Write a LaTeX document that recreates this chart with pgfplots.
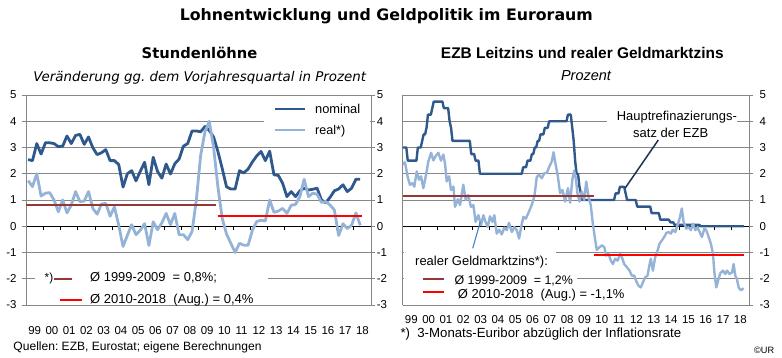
\documentclass[border=0pt]{standalone}
\usepackage{pgfplots}
\pgfplotsset{compat=1.18}
\usepackage{pgfplotstable}
\usepackage{graphicx}
\usepackage{fontspec}
\setmainfont{Liberation Sans}
\newfontfamily\verdana{DejaVu Sans}
\frenchspacing

\definecolor{nomblue}{RGB}{47,88,140}
\definecolor{realblue}{RGB}{149,179,215}
\definecolor{avgdark}{RGB}{149,55,53}
\definecolor{avgred}{RGB}{255,0,0}
\definecolor{gridgray}{RGB}{134,134,134}
\definecolor{ptrblue}{RGB}{70,130,200}
\definecolor{ptrnavy}{RGB}{30,50,80}

\newcommand{\tickfont}{\fontsize{11.5}{13}\selectfont}
\newcommand{\fit}[2]{\resizebox{#1bp}{!}{#2}}

\pgfplotstableread{
x nom real
1999.125 2.54 1.74
1999.375 2.50 1.51
1999.625 3.15 2.00
1999.875 2.75 1.15
2000.125 3.18 1.26
2000.375 3.18 1.28
2000.625 3.15 1.00
2000.875 3.03 0.55
2001.125 3.05 1.00
2001.375 3.44 0.51
2001.625 3.15 0.81
2001.875 3.46 1.32
2002.125 3.50 0.94
2002.375 3.12 0.96
2002.625 3.40 1.32
2002.875 2.99 0.68
2003.125 2.73 0.46
2003.375 2.80 0.85
2003.625 2.92 0.87
2003.875 2.50 0.38
2004.125 2.50 0.74
2004.375 2.35 0.04
2004.625 1.49 -0.77
2004.875 2.00 -0.35
2005.125 2.12 0.06
2005.375 1.73 -0.32
2005.625 2.09 -0.15
2005.875 2.44 0.10
2006.125 1.58 -0.73
2006.375 2.63 0.17
2006.625 2.09 -0.13
2006.875 1.83 0.13
2007.125 2.37 0.49
2007.375 1.99 0.06
2007.625 2.38 0.49
2007.875 2.56 -0.32
2008.125 3.05 -0.32
2008.375 3.15 -0.51
2008.625 3.63 -0.20
2008.875 3.63 1.00
2009.125 3.60 2.70
2009.375 3.80 3.60
2009.625 3.65 4.00
2009.875 3.40 3.00
2010.125 2.85 1.50
2010.375 2.20 0.30
2010.625 1.50 -0.30
2010.875 1.42 -0.65
2011.125 1.42 -1.00
2011.375 2.12 -0.65
2011.625 2.03 -0.72
2011.875 2.18 -0.72
2012.125 2.45 -0.15
2012.375 2.68 0.18
2012.625 2.85 0.23
2012.875 2.50 0.20
2013.125 2.86 1.00
2013.375 1.96 0.53
2013.625 1.94 0.58
2013.875 1.64 0.68
2014.125 1.13 0.49
2014.375 1.32 0.80
2014.625 1.13 0.83
2014.875 1.35 1.13
2015.125 1.45 1.79
2015.375 1.38 1.13
2015.625 1.41 1.26
2015.875 1.45 1.22
2016.125 1.00 0.91
2016.375 0.90 0.94
2016.625 1.10 0.81
2016.875 1.35 0.62
2017.125 1.42 -0.35
2017.375 1.58 0.10
2017.625 1.32 -0.09
2017.875 1.45 0.04
2018.125 1.79 0.51
2018.375 1.79 0.04
}\lohn

\pgfplotstableread{
x y
1999.000 3.00
1999.208 3.00
1999.292 2.50
1999.792 2.50
1999.875 3.00
2000.042 3.00
2000.125 3.25
2000.208 3.50
2000.292 3.50
2000.375 3.75
2000.458 4.25
2000.625 4.25
2000.708 4.50
2000.792 4.75
2001.292 4.75
2001.375 4.50
2001.625 4.50
2001.708 4.00
2001.792 3.75
2001.875 3.25
2002.875 3.25
2002.958 2.75
2003.125 2.75
2003.208 2.50
2003.375 2.50
2003.458 2.00
2005.875 2.00
2005.958 2.25
2006.125 2.25
2006.208 2.50
2006.375 2.50
2006.458 2.75
2006.542 2.75
2006.625 3.00
2006.708 3.00
2006.792 3.25
2006.875 3.25
2006.958 3.50
2007.125 3.50
2007.208 3.75
2007.375 3.75
2007.458 4.00
2008.458 4.00
2008.542 4.25
2008.708 4.25
2008.792 3.75
2008.875 3.25
2008.958 2.50
2009.042 2.00
2009.125 2.00
2009.208 1.50
2009.292 1.25
2009.375 1.00
2011.208 1.00
2011.292 1.25
2011.458 1.25
2011.542 1.50
2011.792 1.50
2011.875 1.25
2011.958 1.00
2012.458 1.00
2012.542 0.75
2013.292 0.75
2013.375 0.50
2013.792 0.50
2013.875 0.25
2014.375 0.25
2014.458 0.15
2014.625 0.15
2014.708 0.05
2016.125 0.05
2016.208 0.00
2018.720 0.00
}\mro

\pgfplotstableread{
x y
1999.00 2.35
1999.13 2.44
1999.29 1.87
1999.42 1.58
1999.56 1.64
1999.67 1.51
1999.81 2.09
1999.94 1.77
2000.06 1.90
2000.19 1.45
2000.33 1.90
2000.48 2.47
2000.64 2.80
2000.77 2.51
2000.90 2.67
2001.06 2.80
2001.21 2.50
2001.35 2.73
2001.45 2.35
2001.54 1.71
2001.68 1.90
2001.79 1.38
2001.93 1.51
2002.02 0.74
2002.18 1.03
2002.31 0.81
2002.50 1.58
2002.64 1.00
2002.79 1.19
2002.94 0.74
2003.08 0.81
2003.21 0.17
2003.37 0.42
2003.52 0.04
2003.66 0.42
2003.76 0.21
2003.91 -0.03
2004.04 0.38
2004.18 0.17
2004.29 0.42
2004.43 -0.28
2004.57 -0.13
2004.72 -0.31
2004.87 -0.05
2005.01 -0.15
2005.14 0.13
2005.30 -0.22
2005.45 -0.03
2005.59 -0.15
2005.72 -0.47
2005.84 -0.03
2005.97 0.36
2006.11 0.29
2006.26 0.51
2006.45 0.81
2006.61 1.15
2006.74 1.87
2006.88 1.96
2007.03 1.83
2007.19 2.03
2007.32 2.03
2007.46 2.26
2007.61 2.47
2007.71 2.82
2007.80 2.47
2007.96 1.90
2008.09 1.26
2008.23 1.38
2008.38 0.94
2008.54 1.45
2008.67 0.90
2008.80 1.80
2008.90 2.12
2009.00 1.80
2009.09 1.26
2009.21 0.94
2009.34 1.32
2009.48 1.00
2009.60 1.70
2009.73 1.13
2009.86 0.81
2009.98 0.10
2010.12 -0.54
2010.21 -0.90
2010.37 -0.80
2010.50 -0.73
2010.64 -0.79
2010.75 -1.12
2010.89 -1.05
2011.02 -1.31
2011.14 -1.44
2011.27 -1.24
2011.41 -1.31
2011.56 -1.05
2011.66 -1.18
2011.79 -1.44
2011.95 -1.56
2012.10 -1.69
2012.23 -1.88
2012.37 -1.88
2012.48 -2.08
2012.62 -2.27
2012.75 -2.33
2012.87 -2.14
2013.00 -1.95
2013.14 -1.88
2013.26 -1.44
2013.33 -1.24
2013.45 -1.69
2013.58 -1.18
2013.72 -0.92
2013.83 -0.67
2013.97 -0.54
2014.10 -0.41
2014.22 -0.26
2014.35 -0.22
2014.49 -0.28
2014.60 -0.13
2014.74 -0.22
2014.87 0.04
2014.99 0.29
2015.12 0.68
2015.22 0.17
2015.38 -0.09
2015.51 -0.03
2015.64 -0.15
2015.76 0.10
2015.90 -0.15
2016.03 -0.03
2016.15 -0.22
2016.28 -0.41
2016.42 -0.09
2016.53 -0.15
2016.67 -0.41
2016.80 -0.67
2016.92 -1.05
2017.00 -1.76
2017.11 -2.33
2017.24 -2.01
2017.34 -1.79
2017.50 -1.69
2017.63 -1.82
2017.73 -1.69
2017.88 -1.82
2018.02 -1.76
2018.11 -1.44
2018.21 -1.88
2018.30 -2.01
2018.40 -2.33
2018.53 -2.44
2018.69 -2.36
}\realmm

\pgfplotsset{
  panel/.style={scale only axis, width=345bp, height=210bp,
    xmin=1999, xmax=2019, ymin=-3, ymax=5, anchor=south west},
  mainpanel/.style={panel,
    axis x line*=middle, axis y line*=box, separate axis lines,
    x axis line style={black,line width=0.9bp,-},
    y axis line style={gridgray,line width=0.9bp},
    xtick={1999,...,2019}, xticklabels={},
    ytick={-3,...,5}, yticklabels={},
    ymajorgrids, major grid style={gridgray,line width=0.9bp},
    x tick style={black,line width=0.8bp},
    y tick style={gridgray,line width=0.8bp},
    tick align=outside, major tick length=4bp},
  labelpanel/.style={panel,
    axis line style={draw=none}, major tick length=0pt,
    tick style={draw=none},
    ticklabel style={font=\tickfont, inner sep=0pt},
    ytick={-3,...,5}, yticklabels={-3,-2,-1,0,1,2,3,4,5},
    xtick={1999.5,2000.5,...,2018.5},
    xticklabels={99,00,01,02,03,04,05,06,07,08,09,10,11,12,13,14,15,16,17,18}},
}

\begin{document}
\begin{tikzpicture}
\begin{scope}[x=1bp,y=-1bp,yshift=357bp]
\path[use as bounding box] (0,0) rectangle (782,357);
\end{scope}

% ---------------- left panel ----------------
\begin{axis}[mainpanel, at={(26bp,52bp)}]
\addplot[nomblue, line width=2.8bp, line join=round] table[x=x,y=nom]{\lohn};
\addplot[realblue, line width=2.8bp, line join=round] table[x=x,y=real]{\lohn};
\addplot[avgdark, line width=2.2bp] coordinates {(1999.0,0.8) (2010.0,0.8)};
\addplot[avgred, line width=2.2bp] coordinates {(2010.15,0.4) (2018.45,0.4)};
\end{axis}
\begin{axis}[labelpanel, at={(26bp,52bp)},
  axis x line*=bottom, axis y line*=left,
  xticklabel style={anchor=base, yshift=-29bp},
  yticklabel style={anchor=east, xshift=-9.3bp}]
\end{axis}
\begin{axis}[labelpanel, at={(26bp,52bp)},
  axis x line=none, axis y line*=right,
  yticklabel style={anchor=west, xshift=5.7bp}]
\end{axis}

% ---------------- right panel ----------------
\begin{axis}[mainpanel, at={(402.7bp,52bp)}, width=346.3bp, ytick pos=right]
\addplot[nomblue, line width=2.4bp, line join=round] table[x=x,y=y]{\mro};
\addplot[realblue, line width=2.4bp, line join=round] table[x=x,y=y]{\realmm};
\addplot[avgdark, line width=2.2bp] coordinates {(1999.0,1.15) (2010.02,1.15)};
\addplot[avgred, line width=2.2bp] coordinates {(2010.02,-1.08) (2018.73,-1.08)};
\end{axis}
\begin{axis}[labelpanel, at={(402.7bp,52bp)}, width=346.3bp,
  axis x line*=bottom, axis y line*=right,
  xticklabel style={anchor=base, yshift=-18.3bp},
  yticklabel style={anchor=west, xshift=10.3bp}]
\end{axis}

% ---------------- annotations (pixel coordinates) ----------------
\begin{scope}[x=1bp,y=-1bp,yshift=357bp]
\node[anchor=base,inner sep=0] at (386.3,21) {\fit{413}{\verdana\bfseries Lohnentwicklung und Geldpolitik im Euroraum}};
\node[anchor=base,inner sep=0] at (199.5,59) {\fit{115.6}{\verdana\bfseries Stundenlöhne}};
\node[anchor=base,inner sep=0] at (199.7,81.7) {\fit{332.7}{\verdana\itshape Veränderung gg. dem Vorjahresquartal in Prozent}};
\node[anchor=base,inner sep=0] at (582.3,58.5) {\fit{282.7}{\bfseries EZB Leitzins und realer Geldmarktzins}};
\node[anchor=base,inner sep=0] at (586,80) {\fit{50}{\itshape Prozent}};

% left legend
\fill[white] (264,98) rectangle (370,142);
\draw[nomblue, line width=2.8bp] (275,109) -- (305,109);
\draw[realblue, line width=2.8bp] (275,130) -- (305,130);
\node[anchor=base west,inner sep=0] at (315,113.3) {\fit{45}{nominal}};
\node[anchor=base west,inner sep=0] at (315,134.3) {\fit{30}{real*)}};

% left averages
\fill[white] (35,262) rectangle (268,304);
\node[anchor=base west,inner sep=0] at (44.5,281.7) {\fit{8.5}{*)}};
\draw[avgdark, line width=2.2bp] (54,279.3) -- (72,279.3);
\node[anchor=base west,inner sep=0] at (90,281.7) {\fit{126.7}{Ø 1999-2009~~= 0,8\%;}};
\draw[avgred, line width=2.2bp] (60,300) -- (81.7,300);
\node[anchor=base west,inner sep=0] at (90,303) {\fit{163.3}{Ø 2010-2018~~(Aug.) = 0,4\%}};

\node[anchor=base west,inner sep=0] at (13.3,350) {\fit{248}{Quellen: EZB, Eurostat; eigene Berechnungen}};

% right annotations
\fill[white] (403.5,247) rectangle (556,270);
\fill[white] (403.5,270) rectangle (577,304);
\node[anchor=base west,inner sep=0] at (415,265) {\fit{132.7}{realer Geldmarktzins*):}};
\draw[avgdark, line width=2.2bp] (422.7,279.3) -- (444.3,279.3);
\node[anchor=base west,inner sep=0] at (454.3,284) {\fit{118.4}{Ø 1999-2009~~= 1,2\%}};
\draw[avgred, line width=2.2bp] (422.7,291.7) -- (444.3,291.7);
\node[anchor=base west,inner sep=0] at (457.7,298.3) {\fit{166.6}{Ø 2010-2018~~(Aug.) = -1,1\%}};
\draw[ptrblue, line width=1.1bp] (472.7,248.3) -- (480.3,221.7);

\fill[white] (607,104) rectangle (737,142);
\node[anchor=base west,inner sep=0] at (616.7,120.7) {\fit{120}{Hauptrefinazierungs-}};
\node[anchor=base west,inner sep=0] at (633,137.3) {\fit{75}{satz der EZB}};
\draw[ptrnavy, line width=1.5bp] (658.3,140) -- (625,188.3);

\node[anchor=base west,inner sep=0] at (400.3,337.3) {\fit{280.7}{*)~~3-Monats-Euribor abzüglich der Inflationsrate}};
\node[anchor=base west,inner sep=0] at (754,353.3) {\fit{20}{©UR}};
\end{scope}
\end{tikzpicture}
\end{document}
